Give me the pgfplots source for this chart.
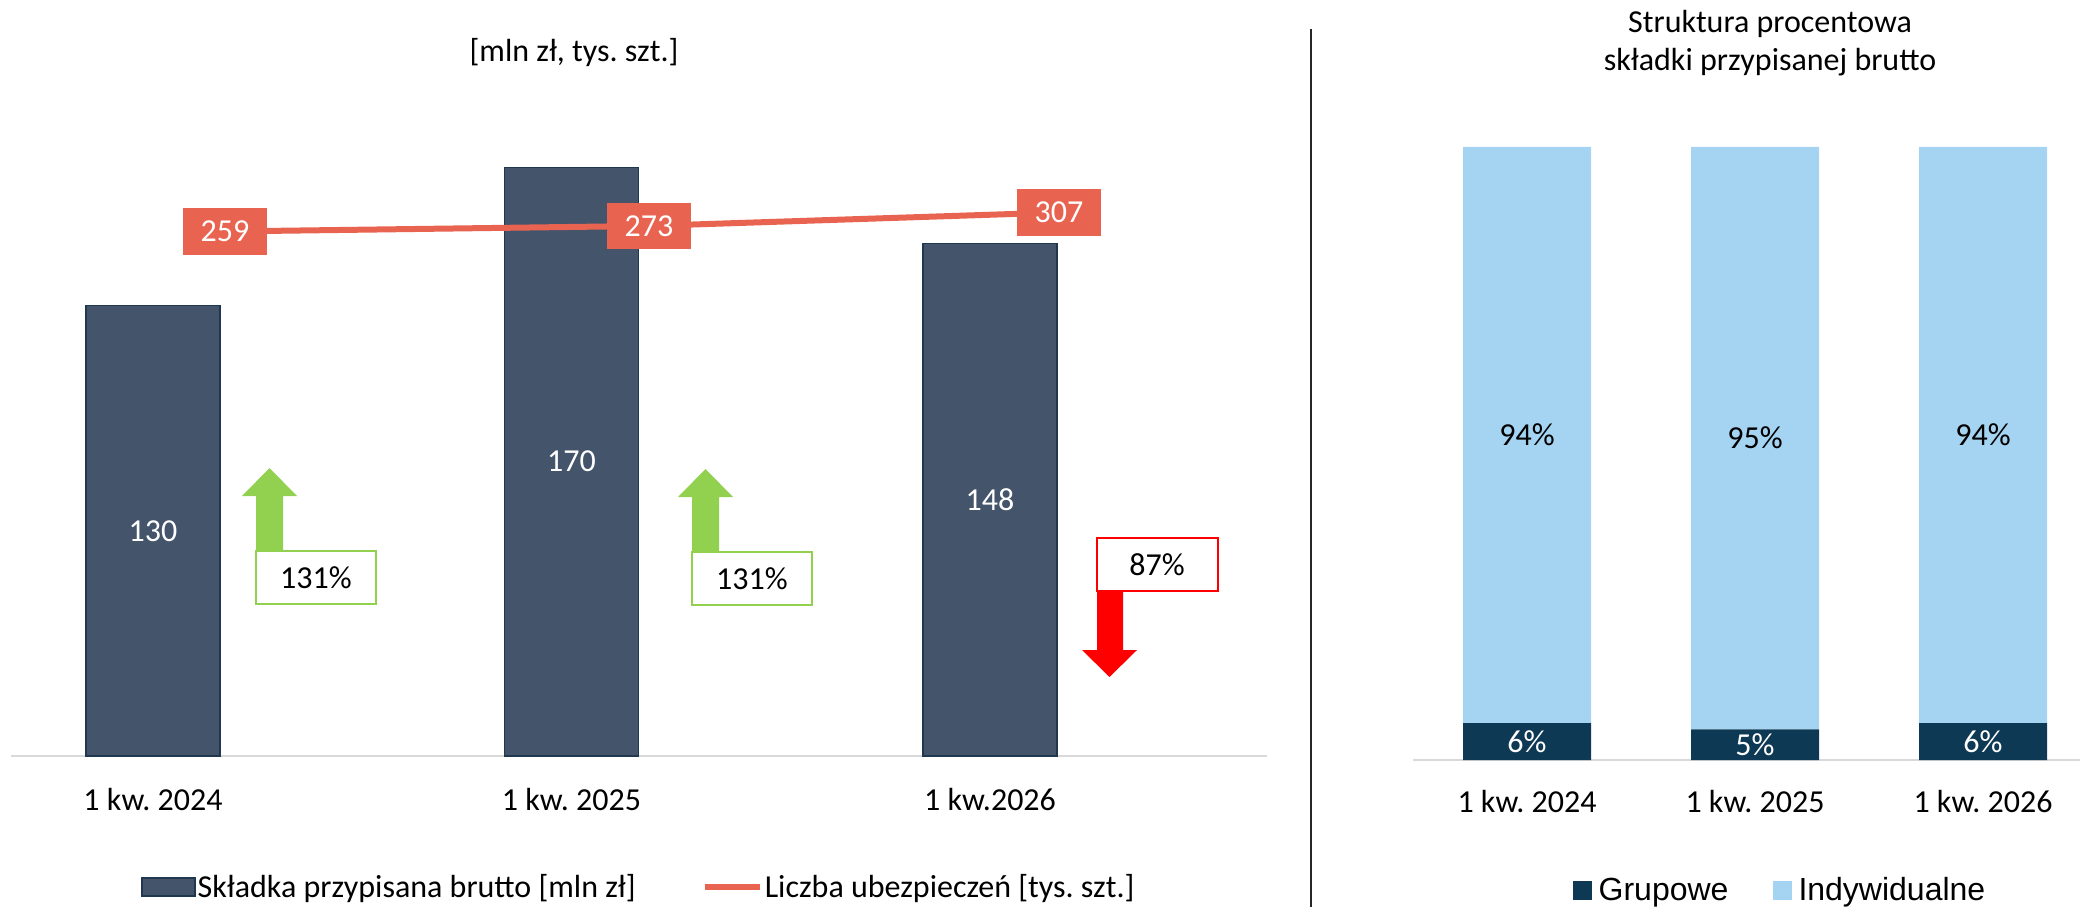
\documentclass[border=0pt]{standalone}
\usepackage{pgfplots}
\pgfplotsset{compat=1.18}
\usepackage{fontspec}
\setmainfont{Carlito}
\newfontfamily\legfont{Liberation Sans}
\frenchspacing
\definecolor{barfill}{RGB}{68,84,106}
\definecolor{barline}{RGB}{31,56,80}
\definecolor{coral}{RGB}{232,100,81}
\definecolor{upgreen}{RGB}{146,208,80}
\definecolor{downred}{RGB}{255,0,0}
\definecolor{darkblue}{RGB}{13,57,84}
\definecolor{lightblue}{RGB}{164,212,241}
\definecolor{axisgray}{RGB}{217,217,217}
\begin{document}
\begin{tikzpicture}[x=0.5pt,y=0.5pt,font=\fontsize{16}{19}\selectfont]
\useasboundingbox (0,0) rectangle (2080,906);

% ---------- left chart: bars ----------
\begin{axis}[
  at={(5.5pt,75pt)}, anchor=south west, scale only axis,
  width=628pt, height=329pt,
  xmin=-0.3393, xmax=2.662, ymin=0, ymax=190,
  axis y line=none, axis x line=bottom,
  x axis line style={draw=axisgray, line width=1.2pt, -},
  xtick={0,1,2}, xticklabels={1 kw. 2024, 1 kw. 2025, 1 kw.2026},
  major tick length=0pt,
  xticklabel style={anchor=center, yshift=-22pt, font=\fontsize{16}{19}\selectfont},
  clip=false,
  legend style={at={(0.5,-0.199)}, anchor=center, draw=none, fill=none,
    legend columns=2, font=\fontsize{16}{19}\selectfont,
    nodes={inner sep=1pt},
    /tikz/every even column/.append style={column sep=32pt}},
]
\addplot[ybar, bar width=67pt, fill=barfill, draw=barline, line width=0.6pt,
  legend image code/.code={\draw[fill=barfill,draw=barline,line width=0.6pt] (0pt,-4.5pt) rectangle (26.5pt,4.5pt);}]
  coordinates {(0,130) (1,170) (2,148)};
\addlegendentry{Składka przypisana brutto [mln zł]}
\addlegendimage{legend image code/.code={\draw[line width=3pt, coral] (0pt,0pt) -- (27.5pt,0pt);}}
\addlegendentry{Liczba ubezpieczeń [tys. szt.]}
\addplot[draw=none, mark=none, forget plot, nodes near coords, point meta=explicit symbolic,
  every node near coord/.append style={anchor=center, text=white, font=\fontsize{16}{19}\selectfont}]
  coordinates {(0,65)[130] (1,85)[170] (2,74)[148]};
\end{axis}

% ---------- left chart: line on secondary axis ----------
\begin{axis}[
  at={(5.5pt,75pt)}, anchor=south west, scale only axis,
  width=628pt, height=329pt,
  xmin=-0.3393, xmax=2.662, ymin=-1065.5, ymax=596.1,
  hide axis, clip=false,
]
\addplot[coral, line width=3pt, mark=none, nodes near coords, point meta=explicit symbolic,
  every node near coord/.append style={anchor=center, fill=coral, text=white,
    minimum width=42pt, minimum height=23.3pt, inner sep=0pt, font=\fontsize{16}{19}\selectfont}]
  coordinates {(0.172,259)[259] (1.185,273)[273] (2.165,307)[307]};
\end{axis}

% ---------- right chart: stacked bars ----------
\begin{axis}[
  at={(706.5pt,73pt)}, anchor=south west, scale only axis,
  width=342pt, height=306.5pt,
  xmin=-0.5, xmax=2.5, ymin=0, ymax=100,
  ybar stacked, bar width=64pt,
  axis y line=none, axis x line=bottom,
  x axis line style={draw=axisgray, line width=1.2pt, -},
  xtick={0,1,2}, xticklabels={1 kw. 2024, 1 kw. 2025, 1 kw. 2026},
  major tick length=0pt,
  xticklabel style={anchor=center, yshift=-21pt, font=\fontsize{16}{19}\selectfont},
  clip=false,
  legend style={at={(0.5365,-0.2135)}, anchor=center, draw=none, fill=none,
    legend columns=2, font=\legfont\fontsize{16}{19}\selectfont,
    nodes={inner sep=1pt},
    /tikz/every odd column/.append style={column sep=2.5pt},
    /tikz/every even column/.append style={column sep=21pt}},
]
\addplot[fill=darkblue, draw=none,
  legend image code/.code={\fill[darkblue] (0pt,-4.75pt) rectangle (9.5pt,4.75pt);}]
  coordinates {(0,6) (1,5) (2,6)};
\addlegendentry{Grupowe}
\addplot[fill=lightblue, draw=none,
  legend image code/.code={\fill[lightblue] (0pt,-4.75pt) rectangle (9.5pt,4.75pt);}]
  coordinates {(0,94) (1,95) (2,94)};
\addlegendentry{Indywidualne}
\end{axis}

% ---------- right chart: segment labels ----------
\begin{axis}[
  at={(706.5pt,73pt)}, anchor=south west, scale only axis,
  width=342pt, height=306.5pt,
  xmin=-0.5, xmax=2.5, ymin=0, ymax=100,
  hide axis, clip=false,
]
\addplot[draw=none, mark=none, nodes near coords, point meta=explicit symbolic,
  every node near coord/.append style={anchor=center, text=black, font=\fontsize{16}{19}\selectfont}]
  coordinates {(0,53)[94\%] (1,52.5)[95\%] (2,53)[94\%]};
\addplot[draw=none, mark=none, nodes near coords, point meta=explicit symbolic,
  every node near coord/.append style={anchor=center, text=white, font=\fontsize{16}{19}\selectfont}]
  coordinates {(0,3)[6\%] (1,2.5)[5\%] (2,3)[6\%]};
\end{axis}

% ---------- titles ----------
\node at (574,853) {[mln zł, tys. szt.]};
\node[align=center] at (1770,863) {Struktura procentowa\\składki przypisanej brutto};

% ---------- divider ----------
\draw[black!85, line width=0.9pt] (1311,877) -- (1311,-10);

% ---------- change arrows ----------
\fill[upgreen] (256,352) -- (283,352) -- (283,410) -- (297,410) -- (269.5,438) -- (242,410) -- (256,410) -- cycle;
\draw[upgreen, line width=1pt, fill=white] (256,302) rectangle (376,355);
\node at (316,328) {131\%};

\fill[upgreen] (692,351) -- (719,351) -- (719,409) -- (733,409) -- (705.5,437) -- (678,409) -- (692,409) -- cycle;
\draw[upgreen, line width=1pt, fill=white] (692,301) rectangle (812,354);
\node at (752,327) {131\%};

\fill[downred] (1097,316) -- (1123,316) -- (1123,256) -- (1137,256) -- (1109.5,229) -- (1082,256) -- (1097,256) -- cycle;
\draw[downred, line width=1pt, fill=white] (1097,315) rectangle (1218,368);
\node at (1157,341) {87\%};
\end{tikzpicture}
\end{document}
